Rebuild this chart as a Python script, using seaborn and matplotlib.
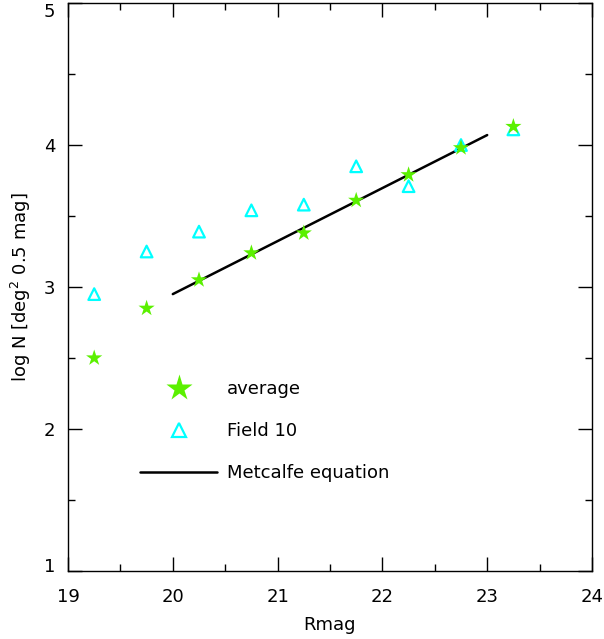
import matplotlib
matplotlib.use("Agg")
import matplotlib.pyplot as plt
from matplotlib.lines import Line2D
from matplotlib.ticker import MultipleLocator
from matplotlib.transforms import ScaledTranslation
import seaborn as sns
import pandas as pd

# Differential galaxy counts per half-magnitude bin
rmag = [19.25, 19.75, 20.25, 20.75, 21.25, 21.75, 22.25, 22.75, 23.25]
logn_average = [2.50, 2.85, 3.05, 3.24, 3.38, 3.61, 3.79, 3.98, 4.13]
logn_field10 = [2.95, 3.25, 3.39, 3.54, 3.58, 3.85, 3.71, 4.00, 4.11]

# Metcalfe count relation over its fitted range
metcalfe_rmag = [20.0, 23.0]
metcalfe_logn = [2.95, 4.07]

green = "#5BF000"
cyan = "#00FFFF"

sns.set_theme(style="ticks")
plt.rcParams["font.family"] = ["DejaVu Sans"]
plt.rcParams["text.color"] = "black"
plt.rcParams["axes.labelcolor"] = "black"

fig = plt.figure(figsize=(6.04, 6.39), dpi=100)
ax = fig.add_axes([0.1126, 0.1064, 0.8675, 0.8889])

df_avg = pd.DataFrame({"Rmag": rmag, "logN": logn_average})
df_f10 = pd.DataFrame({"Rmag": rmag, "logN": logn_field10})
df_met = pd.DataFrame({"Rmag": metcalfe_rmag, "logN": metcalfe_logn})

sns.lineplot(data=df_met, x="Rmag", y="logN", color="black", linewidth=1.8, ax=ax)
sns.scatterplot(data=df_f10, x="Rmag", y="logN", marker="^", s=70,
                facecolor="none", edgecolor=cyan, linewidth=1.6, ax=ax, zorder=3)
sns.scatterplot(data=df_avg, x="Rmag", y="logN", marker="*", s=150,
                color=green, edgecolor="none", ax=ax, zorder=4)

ax.set_xlim(19, 24)
ax.set_ylim(1, 5)
ax.xaxis.set_major_locator(MultipleLocator(1))
ax.xaxis.set_minor_locator(MultipleLocator(0.5))
ax.yaxis.set_major_locator(MultipleLocator(1))
ax.yaxis.set_minor_locator(MultipleLocator(0.5))
ax.tick_params(which="both", direction="in", top=True, right=True,
               labelsize=13, colors="black", labelcolor="black", width=1)
ax.tick_params(which="major", length=10)
ax.tick_params(which="minor", length=5)
ax.tick_params(axis="x", which="major", pad=12.5)
ax.tick_params(axis="y", which="major", pad=9)
for sp in ax.spines.values():
    sp.set_color("black")
    sp.set_linewidth(1)

ax.set_xlabel("Rmag", fontsize=13, labelpad=7)
ax.set_ylabel(r"log N [deg$^2$ 0.5 mag]", fontsize=13, labelpad=8)

# keep the end labels of the y axis inside the frame
fig.canvas.draw()
for lab in ax.get_yticklabels():
    txt = lab.get_text()
    if txt == "5":
        lab.set_transform(lab.get_transform() + ScaledTranslation(0, -7 / 100, fig.dpi_scale_trans))
    elif txt == "1":
        lab.set_transform(lab.get_transform() + ScaledTranslation(0, 6 / 100, fig.dpi_scale_trans))

handles = [
    Line2D([], [], linestyle="none", marker="*", markersize=20,
           color=green, markeredgecolor="none"),
    Line2D([], [], linestyle="none", marker="^", markersize=10,
           markerfacecolor="none", markeredgecolor=cyan, markeredgewidth=1.6),
    Line2D([], [], color="black", linewidth=1.8),
]
ax.legend(handles, ["average", "Field 10", "Metcalfe equation"],
          loc="upper left", bbox_to_anchor=(0.137, 0.336), frameon=False,
          fontsize=13, handlelength=4.3, handletextpad=0.55,
          labelspacing=1.32, borderpad=0, borderaxespad=0)

fig.savefig("out.png", dpi=100)
